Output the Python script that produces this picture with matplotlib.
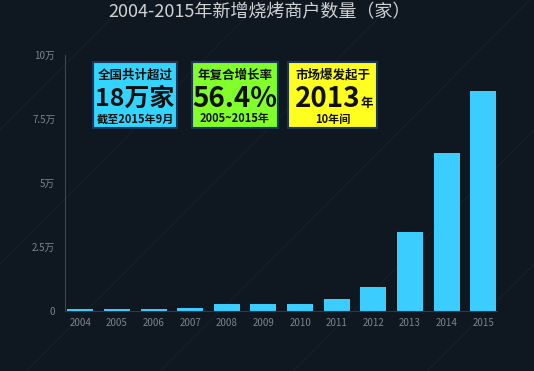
import matplotlib.pyplot as plt
from matplotlib.patches import Rectangle
from matplotlib.lines import Line2D

plt.rcParams['font.family'] = ['Noto Sans CJK SC', 'DejaVu Sans']

# data (households)
years = ['2004', '2005', '2006', '2007', '2008', '2009',
         '2010', '2011', '2012', '2013', '2014', '2015']
counts = [600, 800, 800, 1200, 2700, 2700,
          2700, 4700, 9400, 30900, 61700, 85900]
yticks = [0, 25000, 50000, 75000, 100000]
ytick_labels = ['0', '2.5万', '5万', '7.5万', '10万']

bg = '#0f1820'
fig = plt.figure(figsize=(5.34, 3.71), dpi=100, facecolor=bg)

# faint diagonal streaks in the background
for x0 in [-0.7, -0.45, -0.2, 0.05, 0.3, 0.55, 0.8]:
    fig.add_artist(Line2D([x0, x0 + 0.9], [0, 1.3], transform=fig.transFigure,
                          color='#2a3540', lw=0.6, alpha=0.35, zorder=0))

ax = fig.add_axes([0.1217, 0.1617, 0.8093, 0.6903])
ax.set_facecolor('none')
ax.bar(range(len(years)), counts, width=0.71, color='#3ccdff', zorder=2)
ax.set_xlim(-0.42, 11.38)
ax.set_ylim(0, 100000)
ax.set_xticks(range(len(years)))
ax.set_xticklabels(years)
ax.set_yticks(yticks)
ax.set_yticklabels(ytick_labels)
ax.tick_params(length=0, colors='#7d838a', labelsize=7)
ax.tick_params(axis='x', pad=5)
ax.tick_params(axis='y', pad=7)
for s in ['top', 'right']:
    ax.spines[s].set_visible(False)
ax.spines['left'].set_color('#3b4651')
ax.spines['bottom'].set_color('#2f3a44')

fig.text(260 / 534, 1 - 12 / 371, '2004-2015年新增烧烤商户数量（家）',
         ha='center', va='center', color='#cfd1d3', fontsize=13)

W, H = 534, 371
boxes = [
    (93, 177, '#33d5ff', '全国共计超过', '18万家', '', '截至2015年9月', 18),
    (192, 278, '#80ff2b', '年复合增长率', '56.4%', '', '2005~2015年', 20),
    (288, 377, '#ffff1f', '市场爆发起于', '2013', '年', '10年间', 20),
]
for x0, x1, c, t1, t2, t2s, t3, fs in boxes:
    fig.add_artist(Rectangle((x0 / W, 1 - 128 / H), (x1 - x0) / W, 66 / H,
                             transform=fig.transFigure, facecolor=c,
                             edgecolor='#1b3556', lw=1.5, zorder=3))
    cx = (x0 + x1) / 2 / W
    fig.text(cx, 1 - 75 / H, t1, ha='center', va='center', fontsize=9,
             fontweight='bold', color='#111111', zorder=4)
    if t2s:
        fig.text(cx - 5 / W, 1 - 99 / H, t2, ha='center', va='center',
                 fontsize=fs, fontweight='bold', color='#111111', zorder=4)
        fig.text(cx + 34 / W, 1 - 103 / H, t2s, ha='center', va='center',
                 fontsize=9, fontweight='bold', color='#111111', zorder=4)
    else:
        fig.text(cx, 1 - 99 / H, t2, ha='center', va='center', fontsize=fs,
                 fontweight='bold', color='#111111', zorder=4)
    fig.text(cx, 1 - 119 / H, t3, ha='center', va='center', fontsize=8,
             fontweight='bold', color='#111111', zorder=4)

fig.savefig('out.png', dpi=100, facecolor=bg)
